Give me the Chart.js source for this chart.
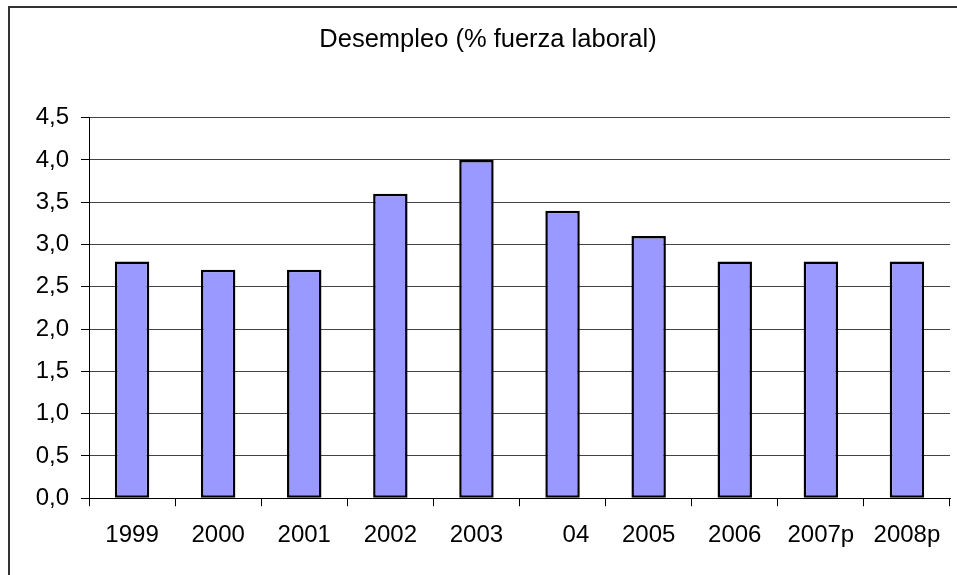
<!DOCTYPE html>
<html>
<head>
<meta charset="utf-8">
<script src="https://cdn.jsdelivr.net/npm/chart.js@4"></script>
<style>
  html, body { margin: 0; padding: 0; background: #fff; overflow: hidden; }
  #frame {
    position: absolute; left: 8px; top: 6px; width: 1200px; height: 800px;
    border-left: 2px solid #333; border-top: 2px solid #333;
  }
  #wrap { position: absolute; left: 0; top: 0; width: 1002px; height: 575px; }
</style>
</head>
<body>
<div id="frame"></div>
<div id="wrap"><canvas id="myChart"></canvas></div>
<script>
// Chart data
const years = ["1999", "2000", "2001", "2002", "2003", "    04", "2005", "2006", "2007p", "2008p"];
const desempleo = [2.8, 2.7, 2.7, 3.6, 4.0, 3.4, 3.1, 2.8, 2.8, 2.8];
const chartTitle = "Desempleo (% fuerza laboral)";

const font = "'Liberation Sans', Arial, sans-serif";

const myChart = new Chart(document.getElementById("myChart"), {
  type: "bar",
  data: {
    labels: years,
    datasets: [{
      data: desempleo,
      backgroundColor: "#9999ff",
      borderColor: "#000",
      borderWidth: 2.5,
      borderSkipped: false,
      categoryPercentage: 1,
      barPercentage: 0.4
    }]
  },
  options: {
    responsive: true,
    maintainAspectRatio: false,
    animation: false,
    // the original chart is wider than the picture; the right side is cut off
    layout: { padding: { left: 26, right: 52, top: 0, bottom: 10 } },
    plugins: {
      legend: { display: false },
      tooltip: { enabled: false },
      title: {
        display: true,
        text: chartTitle,
        color: "#000",
        font: { family: font, size: 25.5, weight: "normal" },
        padding: { top: 25, bottom: 62 }
      }
    },
    scales: {
      x: {
        offset: true,
        grid: { drawOnChartArea: false, offset: true, tickLength: 8, color: "#000" },
        border: { color: "#000", width: 1 },
        ticks: { color: "#000", padding: 15, maxRotation: 0, autoSkip: false, font: { family: font, size: 24 } }
      },
      y: {
        min: 0,
        max: 4.5,
        afterFit: scale => { scale.width = 63; },
        grid: { color: "#444", tickColor: "#000", tickLength: 8 },
        border: { color: "#000", width: 1 },
        ticks: {
          stepSize: 0.5,
          color: "#000",
          padding: 12,
          font: { family: font, size: 24 },
          callback: v => v.toFixed(1).replace(".", ",")
        }
      }
    }
  }
});
</script>
</body>
</html>
